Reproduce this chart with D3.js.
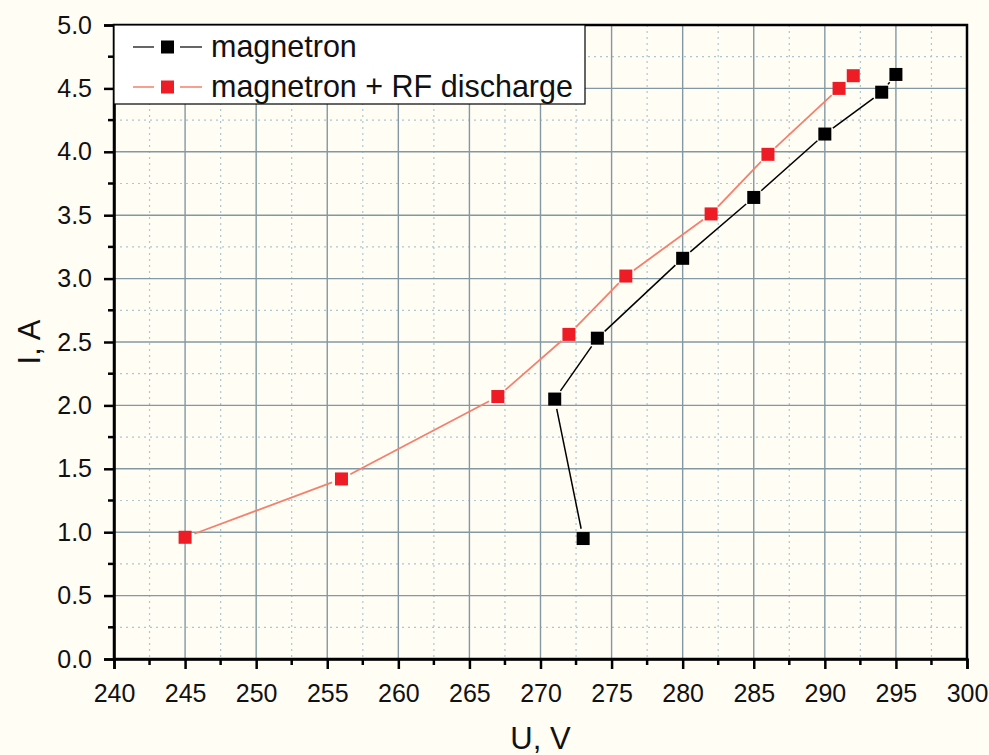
<!DOCTYPE html>
<html><head><meta charset="utf-8">
<script src="https://cdn.jsdelivr.net/npm/d3@7"></script>
<style>body{margin:0;background:#fffdf4;}svg{display:block;}</style>
</head><body>
<script>
const seriesNames = ["magnetron", "magnetron + RF discharge"];
const magU = [273, 271, 274, 280, 285, 290, 294, 295];
const magI = [0.95, 2.05, 2.53, 3.16, 3.64, 4.14, 4.47, 4.61];
const rfU = [245, 256, 267, 272, 276, 282, 286, 291, 292];
const rfI = [0.96, 1.42, 2.07, 2.56, 3.02, 3.51, 3.98, 4.50, 4.60];
const xTicks = [240,245,250,255,260,265,270,275,280,285,290,295,300];
const yTicks = [0.0,0.5,1.0,1.5,2.0,2.5,3.0,3.5,4.0,4.5,5.0];

const W = 989, H = 755;
const L = 114, R = 967, T = 25, B = 659;
const FONT = "Arial, 'Liberation Sans', sans-serif";
const svg = d3.select("body").append("svg").attr("width", W).attr("height", H);
svg.append("rect").attr("width", W).attr("height", H).attr("fill", "#fffdf4");

const x = d3.scaleLinear().domain([240, 300]).range([L, R]);
const y = d3.scaleLinear().domain([0, 5]).range([B, T]);

const xMinor = d3.range(242.5, 300, 5);
const yMinor = d3.range(0.25, 5, 0.5);
const g = svg.append("g");
g.selectAll(".xm").data(xMinor).enter().append("line")
  .attr("x1", d => x(d)).attr("x2", d => x(d)).attr("y1", T).attr("y2", B)
  .attr("stroke", "#a9c8d6").attr("stroke-width", 1.2).attr("stroke-dasharray", "2,4");
g.selectAll(".ym").data(yMinor).enter().append("line")
  .attr("y1", d => y(d)).attr("y2", d => y(d)).attr("x1", L).attr("x2", R)
  .attr("stroke", "#a9c8d6").attr("stroke-width", 1.2).attr("stroke-dasharray", "2,4");
g.selectAll(".xM").data(xTicks.slice(1, -1)).enter().append("line")
  .attr("x1", d => x(d)).attr("x2", d => x(d)).attr("y1", T).attr("y2", B)
  .attr("stroke", "#8299a4").attr("stroke-width", 1.4);
g.selectAll(".yM").data(yTicks.slice(1, -1)).enter().append("line")
  .attr("y1", d => y(d)).attr("y2", d => y(d)).attr("x1", L).attr("x2", R)
  .attr("stroke", "#8299a4").attr("stroke-width", 1.4);

svg.append("rect").attr("x", L).attr("y", T).attr("width", R - L).attr("height", B - T)
  .attr("fill", "none").attr("stroke", "#000").attr("stroke-width", 2.5);

const xAxis = d3.axisBottom(x).tickValues(xTicks).tickSize(10).tickPadding(15).tickFormat(d3.format("d"));
const yAxis = d3.axisLeft(y).tickValues(yTicks).tickSize(10).tickPadding(12).tickFormat(d3.format(".1f"));
const gx = svg.append("g").attr("transform", `translate(0,${B})`).call(xAxis);
const gy = svg.append("g").attr("transform", `translate(${L},0)`).call(yAxis);
[gx, gy].forEach(a => {
  a.select(".domain").attr("stroke", "#000").attr("stroke-width", 2.5);
  a.selectAll(".tick line").attr("stroke", "#000").attr("stroke-width", 2.5);
  a.selectAll(".tick text").attr("fill", "#111").style("font-family", FONT).style("font-size", "25px");
});
svg.append("g").selectAll("line").data(xMinor).enter().append("line")
  .attr("x1", d => x(d)).attr("x2", d => x(d)).attr("y1", B).attr("y2", B + 6)
  .attr("stroke", "#000").attr("stroke-width", 2.5);
svg.append("g").selectAll("line").data(yMinor).enter().append("line")
  .attr("y1", d => y(d)).attr("y2", d => y(d)).attr("x1", L).attr("x2", L - 6)
  .attr("stroke", "#000").attr("stroke-width", 2.5);

svg.append("text").attr("x", (L + R) / 2).attr("y", 749).attr("text-anchor", "middle")
  .style("font-family", FONT).style("font-size", "31px").attr("fill", "#111").text("U, V");
svg.append("text").attr("transform", `translate(40,${(T + B) / 2}) rotate(-90)`).attr("text-anchor", "middle")
  .style("font-family", FONT).style("font-size", "31px").attr("fill", "#111").text("I, A");

function drawSeries(us, is, color, fill, lw) {
  const pts = us.map((u, i) => [x(u), y(is[i])]);
  const gap = 10;
  const sg = svg.append("g");
  for (let i = 0; i < pts.length - 1; i++) {
    const [x0, y0] = pts[i], [x1, y1] = pts[i + 1];
    const dx = x1 - x0, dy = y1 - y0, len = Math.hypot(dx, dy);
    if (len <= 2 * gap) continue;
    const ux = dx / len, uy = dy / len;
    sg.append("line").attr("x1", x0 + ux * gap).attr("y1", y0 + uy * gap)
      .attr("x2", x1 - ux * gap).attr("y2", y1 - uy * gap)
      .attr("stroke", color).attr("stroke-width", lw);
  }
  sg.selectAll("rect").data(pts).enter().append("rect")
    .attr("x", d => d[0] - 6.5).attr("y", d => d[1] - 6.5).attr("width", 13).attr("height", 13)
    .attr("fill", fill);
}
drawSeries(magU, magI, "#000", "#000", 1.5);
drawSeries(rfU, rfI, "#f4806e", "#ee1c24", 1.8);

const lg = svg.append("g");
lg.append("rect").attr("x", L).attr("y", T).attr("width", 471).attr("height", 79)
  .attr("fill", "#fff").attr("stroke", "#000").attr("stroke-width", 1.2);
const legColors = [["#333", "#000"], ["#f4806e", "#ee1c24"]];
seriesNames.forEach((n, i) => {
  const cy = T + 22 + i * 40;
  lg.append("line").attr("x1", 133).attr("x2", 154).attr("y1", cy).attr("y2", cy).attr("stroke", legColors[i][0]).attr("stroke-width", 1.5);
  lg.append("line").attr("x1", 180).attr("x2", 202).attr("y1", cy).attr("y2", cy).attr("stroke", legColors[i][0]).attr("stroke-width", 1.5);
  lg.append("rect").attr("x", 161).attr("y", cy - 6.5).attr("width", 13).attr("height", 13).attr("fill", legColors[i][1]);
  lg.append("text").attr("x", 211).attr("y", cy + 10).style("font-family", FONT)
    .style("font-size", "30.5px").attr("fill", "#111").text(n);
});
</script>
</body></html>
